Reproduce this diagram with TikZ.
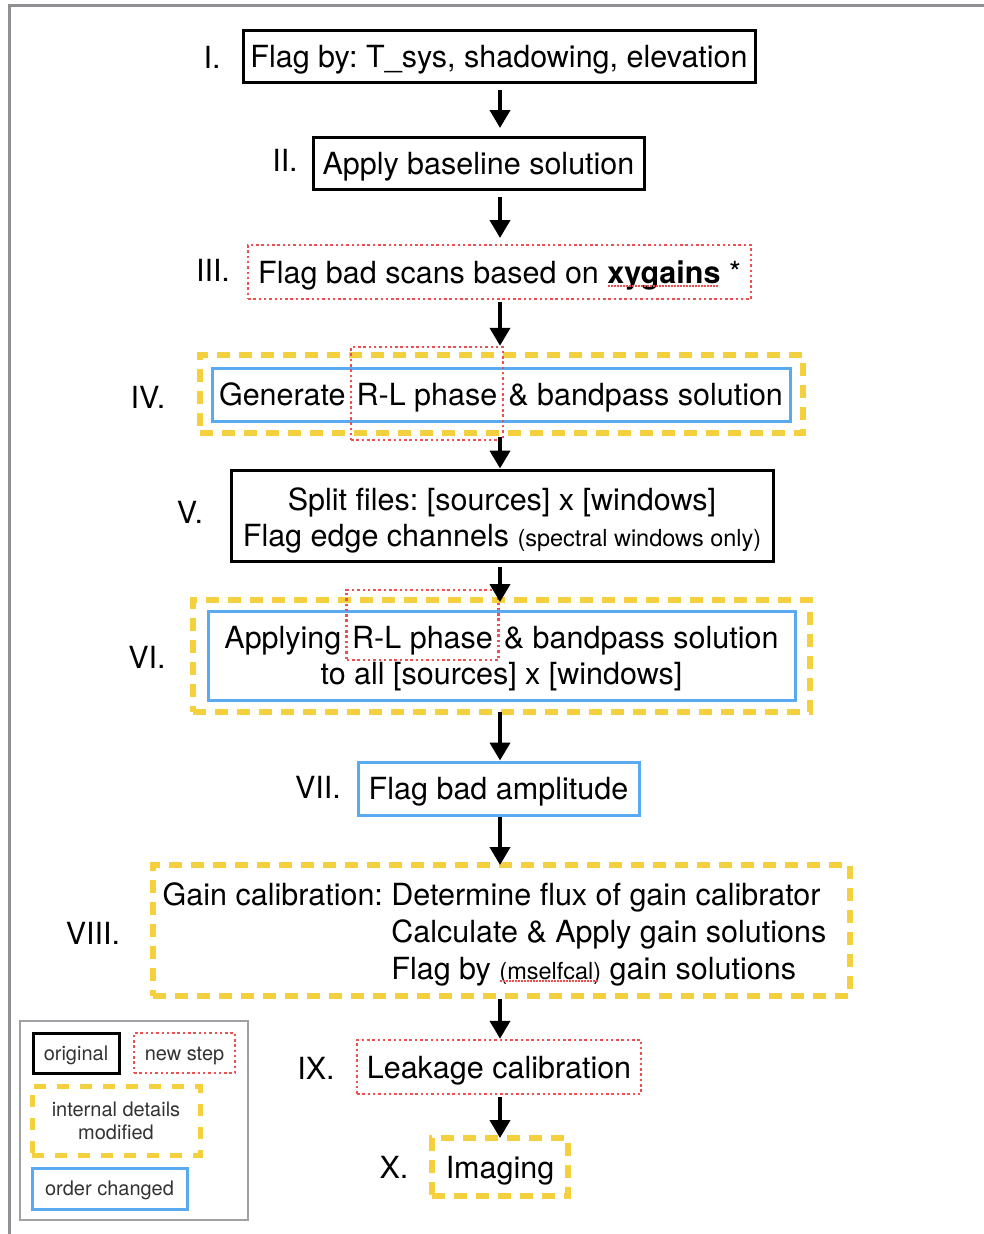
\documentclass[tikz,border=0pt]{standalone}
\usepackage{fontspec}
\setmainfont{TeX Gyre Heros}
\usetikzlibrary{arrows.meta}
\frenchspacing
\definecolor{ylw}{HTML}{F5D03E}
\definecolor{rdd}{HTML}{EE4F4F}
\definecolor{blu}{HTML}{5AAAF2}
\definecolor{frm}{HTML}{8E9094}
\definecolor{lgd}{HTML}{333333}
\newcommand\bigf{\fontsize{30.5}{36}\selectfont}
\newcommand\gainf{\fontsize{30.5}{37}\selectfont}
\newcommand\midf{\fontsize{23.5}{26}\selectfont}
\newcommand\legf{\fontsize{20}{23}\selectfont}
\newcommand\squig[2]{\setbox0\hbox{#2}\leavevmode\rlap{\copy0}\raisebox{-#1}{\color{rdd}\leaders\hbox to 3pt{\hss\rule{1.6pt}{1.6pt}\hss}\hskip\wd0}}
\newlength\lenA \newlength\lenB \newlength\lenC \newlength\lenD
\tikzset{
  one/.style={text height=22pt, text depth=0pt},
  blk/.style={draw=black, line width=3pt, font=\bigf, inner sep=0pt},
  bbox/.style={draw=blu, line width=3pt, font=\bigf, inner sep=0pt},
  rbox/.style={draw=rdd, line width=2.5pt, dash pattern=on 2.5pt off 2.8pt, font=\bigf, inner sep=0pt},
  ybox/.style={draw=ylw, line width=6pt, dash pattern=on 13pt off 9pt, font=\bigf, inner sep=0pt},
  lab/.style={font=\bigf, inner sep=0pt},
  arr/.style={line width=4pt, -{Triangle[width=20pt,length=18pt]}},
}
\begin{document}
\settowidth\lenA{\bigf Generate}%
\settowidth\lenB{\bigf R-L phase}%
\settowidth\lenC{\bigf \& bandpass solution}%
\settowidth\lenD{\bigf Applying}%
\begin{tikzpicture}[x=1pt,y=-1pt]
\useasboundingbox (0,0) rectangle (984,1234);
\fill[white] (0,0) rectangle (984,1234);
\draw[frm, line width=3pt] (9,1234) -- (9,5) -- (984,5);
\coordinate (col) at (500,0);

% I
\node[blk, one, minimum width=512pt, minimum height=52pt] (n1) at (499,56) {Flag by: T\_sys, shadowing, elevation};
\node[lab] (l1) at (212,57) {I.};
% II
\node[blk, one, minimum width=331pt, minimum height=52pt] (n2) at (478.5,163) {Apply baseline solution};
\node[lab] (l2) at (285,160) {II.};
% III
\node[rbox, one, minimum width=503pt, minimum height=54pt] (n3) at (499.5,272) {Flag bad scans based on \textbf{\squig{4pt}{xygains}} *};
\node[lab] (l3) at (213,270) {III.};
% IV
\pgfmathsetmacro\gp{11}
\pgfmathsetmacro\rlW{\lenB+\gp}
\pgfmathsetmacro\rlL{501 - (\lenA+\lenB+\lenC+2*\gp)/2 + \lenA + \gp/2}
\pgfmathsetmacro\rlM{501.5 - (\lenD+\lenB+\lenC+2*\gp)/2 + \lenD + \gp/2}
\node[ybox, minimum width=603pt, minimum height=78pt] (y4) at (501.5,394) {};
\node[bbox, one, minimum width=578pt, minimum height=53pt] (n4) at (501,394.5) {Generate\hspace{\gp pt}R-L phase\hspace{\gp pt}\& bandpass solution};
\node[rbox, minimum width=\rlW pt, minimum height=93pt] (r4) at (\rlL+\rlW/2,393.5) {};
\node[lab] (l4) at (148,397) {IV.};
% V
\node[blk, minimum width=542pt, minimum height=91pt] (n5) at (502,515.5) {\raisebox{16.5pt}[22pt][0pt]{\begin{tabular}[t]{@{}c@{}}Split files: [sources] x [windows]\\Flag edge channels {\midf (spectral windows only)}\end{tabular}}};
\node[lab] (l5) at (190,512) {V.};
% VI
\node[ybox, minimum width=617pt, minimum height=112pt] (y6) at (501.5,656) {};
\node[bbox, minimum width=587pt, minimum height=89pt] (n6) at (501.5,655.5) {\raisebox{18.5pt}[22pt][0pt]{\begin{tabular}[t]{@{}c@{}}Applying\hspace{\gp pt}R-L phase\hspace{\gp pt}\& bandpass solution\\to all [sources] x [windows]\end{tabular}}};
\node[rbox, minimum width=\rlW pt, minimum height=70pt] (r6) at (\rlM+\rlW/2,625) {};
\node[lab] (l6) at (147,657) {VI.};
% VII
\node[bbox, one, minimum width=281pt, minimum height=53pt] (n7) at (498.5,788.5) {Flag bad amplitude};
\node[lab] (l7) at (318,787) {VII.};
% VIII
\node[ybox, font=\gainf, minimum width=697pt, minimum height=131pt] (n8) at (501.5,930.5) {\raisebox{36.5pt}[22pt][0pt]{\begin{tabular}[t]{@{}l@{ }l@{}}Gain calibration: & Determine flux of gain calibrator\\ & Calculate \& Apply gain solutions\\ & Flag by {\midf\squig{3pt}{(mselfcal)}} gain solutions\end{tabular}}\rule{14pt}{0pt}};
\node[lab] (l8) at (93,933) {VIII.};
% IX
\node[rbox, one, minimum width=284pt, minimum height=54pt] (n9) at (499,1067) {Leakage calibration};
\node[lab] (l9) at (316,1068) {IX.};
% X
\node[ybox, one, minimum width=136pt, minimum height=58pt] (n10) at (500,1167) {Imaging};
\node[lab] (l10) at (394,1167) {X.};

% arrows
\draw[arr, shorten <=6.5pt, shorten >=7.5pt] (n1.south -| col) -- (n2.north -| col);
\draw[arr, shorten <=6.5pt, shorten >=5.75pt] (n2.south -| col) -- (n3.north -| col);
\draw[arr, shorten <=1.75pt] (n3.south -| col) -- (r4.north -| col);
\draw[arr, shorten <=1pt] (y4.south -| col) -- (n5.north -| col);
\draw[arr, shorten <=4.5pt, shorten >=-5pt] (n5.south -| col) -- (y6.north -| col);
\draw[arr, shorten <=-3pt] (y6.south -| col) -- (n7.north -| col);
\draw[arr, shorten <=0.5pt, shorten >=-3pt] (n7.south -| col) -- (n8.north -| col);
\draw[arr] (n8.south -| col) -- (n9.north -| col);
\draw[arr, shorten <=2pt, shorten >=-3pt] (n9.south -| col) -- (n10.north -| col);

% legend
\node[draw=frm!85, line width=2pt, minimum width=228pt, minimum height=199pt, inner sep=0pt] (leg) at (134,1120.5) {};
\node[blk, font=\legf, text=lgd, text height=14.4pt, text depth=0pt, minimum width=86pt, minimum height=40pt] (lo) at (76,1053) {original};
\node[rbox, font=\legf, text=lgd, text height=14.4pt, text depth=0pt, minimum width=101pt, minimum height=40pt] (ln) at (184.5,1053) {new step};
\node[ybox, line width=5pt, dash pattern=on 12pt off 11pt, font=\legf, align=center, text=lgd, minimum width=168pt, minimum height=69pt] (li) at (116,1120.5) {internal details\\modified};
\node[bbox, font=\legf, text=lgd, text height=14.4pt, text depth=0pt, minimum width=155pt, minimum height=41pt] (lc) at (109.5,1188.5) {order changed};
\end{tikzpicture}
\end{document}
